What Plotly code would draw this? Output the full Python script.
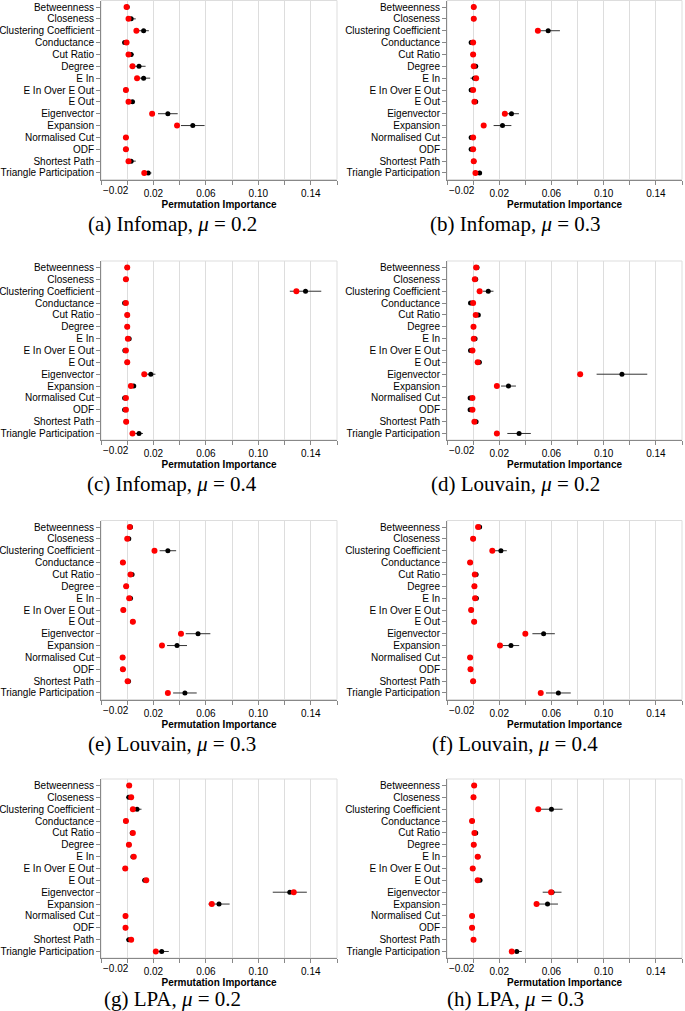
import plotly.graph_objects as go

features = ["Betweenness", "Closeness", "Clustering Coefficient", "Conductance", "Cut Ratio",
            "Degree", "E In", "E In Over E Out", "E Out", "Eigenvector", "Expansion",
            "Normalised Cut", "ODF", "Shortest Path", "Triangle Participation"]

captions = ["(a) Infomap, <i>μ</i> = 0.2", "(b) Infomap, <i>μ</i> = 0.3",
            "(c) Infomap, <i>μ</i> = 0.4", "(d) Louvain, <i>μ</i> = 0.2",
            "(e) Louvain, <i>μ</i> = 0.3", "(f) Louvain, <i>μ</i> = 0.4",
            "(g) LPA, <i>μ</i> = 0.2", "(h) LPA, <i>μ</i> = 0.3"]

tick_vals = [-0.02, 0.0, 0.02, 0.04, 0.06, 0.08, 0.10, 0.12, 0.14, 0.16]
tick_text = ["", "", "0.02", "", "0.06", "", "0.10", "", "0.14", ""]
first_tick_label = "−0.02"

# red points
a_red = [-0.0005, 0.001, 0.007, -0.0005, 0.001, 0.004, 0.0075, -0.001, 0.001, 0.019, 0.038, -0.001, -0.001, 0.001, 0.013]
b_red = [0.0005, 0.0005, 0.0496, 0.0, 0.0, 0.0005, 0.0023, 0.0, 0.001, 0.0243, 0.0081, 0.0, 0.0, 0.0005, 0.0018]
c_red = [0.0, -0.001, 0.129, -0.001, 0.0, 0.0, 0.0005, -0.001, 0.0, 0.013, 0.0028, -0.001, -0.001, -0.0008, 0.004]
d_red = [0.0023, 0.0013, 0.005, 0.0, 0.002, 0.0003, 0.0005, -0.0005, 0.0035, 0.082, 0.0182, -0.0005, -0.0005, 0.001, 0.0182]
e_red = [0.002, 0.0, 0.0208, -0.0033, 0.0025, -0.0008, 0.0015, -0.003, 0.0043, 0.041, 0.0265, -0.0035, -0.0033, 0.0003, 0.031]
f_red = [0.0038, 0.0, 0.0147, -0.0023, 0.0013, 0.001, 0.0015, -0.0015, 0.0008, 0.040, 0.0206, -0.0023, -0.002, 0.0, 0.0518]
g_red = [0.0015, 0.003, 0.0043, -0.001, 0.0043, 0.0013, 0.005, -0.0015, 0.0145, 0.127, 0.0645, -0.0013, -0.0013, 0.003, 0.0218]
h_red = [0.0008, 0.0003, 0.0499, -0.0008, 0.001, 0.0005, 0.0035, -0.0003, 0.0035, 0.0597, 0.0486, -0.0008, -0.0008, 0.0003, 0.0296]

# black points (mean) and error half-widths
a_black = [0.0, 0.003, 0.0125, -0.002, 0.003, 0.009, 0.0125, -0.001, 0.004, 0.031, 0.050, -0.001, -0.001, 0.003, 0.016]
b_black = [0.0005, 0.0005, 0.0575, -0.0015, 0.0, 0.002, 0.001, -0.0015, 0.002, 0.0294, 0.0225, -0.0015, -0.0015, 0.0005, 0.005]
c_black = [0.0, -0.001, 0.136, -0.002, 0.0, 0.0, 0.0015, -0.0018, 0.0, 0.018, 0.005, -0.002, -0.002, -0.0008, 0.009]
d_black = [0.003, 0.002, 0.0116, -0.002, 0.004, 0.0003, 0.0015, -0.002, 0.0048, 0.114, 0.0271, -0.0023, -0.0023, 0.0023, 0.0352]
e_black = [0.0025, 0.0012, 0.031, -0.0033, 0.0037, -0.0008, 0.0025, -0.003, 0.0043, 0.054, 0.038, -0.0035, -0.0033, 0.001, 0.044]
f_black = [0.005, 0.0, 0.0213, -0.0023, 0.0023, 0.001, 0.0025, -0.0015, 0.0008, 0.054, 0.029, -0.0023, -0.002, 0.0, 0.0653]
g_black = [0.0015, 0.0012, 0.0075, -0.001, 0.0038, 0.0013, 0.0043, -0.0015, 0.0133, 0.124, 0.070, -0.0013, -0.0013, 0.0012, 0.0263]
h_black = [0.0008, 0.0003, 0.060, -0.0008, 0.002, 0.0005, 0.0038, -0.0003, 0.0053, 0.0605, 0.057, -0.0008, -0.0008, 0.0003, 0.0334]

a_err = [0.0008, 0.0035, 0.004, 0.001, 0.002, 0.005, 0.005, 0.0008, 0.002, 0.0075, 0.009, 0.0008, 0.0008, 0.0035, 0.0025]
b_err = [0.0005, 0.0005, 0.009, 0.001, 0.0005, 0.001, 0.003, 0.001, 0.001, 0.0057, 0.0068, 0.001, 0.001, 0.0005, 0.0015]
c_err = [0.0005, 0.0005, 0.012, 0.001, 0.0005, 0.0005, 0.001, 0.001, 0.0005, 0.0035, 0.0015, 0.001, 0.001, 0.0005, 0.003]
d_err = [0.001, 0.001, 0.004, 0.001, 0.001, 0.0005, 0.001, 0.001, 0.001, 0.0194, 0.0057, 0.001, 0.001, 0.001, 0.009]
e_err = [0.001, 0.001, 0.0063, 0.0005, 0.001, 0.0005, 0.001, 0.0005, 0.0005, 0.0094, 0.0076, 0.0005, 0.0005, 0.001, 0.009]
f_err = [0.001, 0.0005, 0.0045, 0.0005, 0.001, 0.0005, 0.001, 0.0005, 0.0005, 0.0086, 0.0063, 0.0005, 0.0005, 0.0005, 0.0095]
g_err = [0.0005, 0.002, 0.0034, 0.0005, 0.001, 0.0005, 0.001, 0.0005, 0.0015, 0.013, 0.0081, 0.0005, 0.0005, 0.002, 0.0054]
h_err = [0.0005, 0.0005, 0.0085, 0.0005, 0.001, 0.0005, 0.001, 0.0005, 0.001, 0.0072, 0.008, 0.0005, 0.0005, 0.0005, 0.0039]

panels = [(a_red, a_black, a_err), (b_red, b_black, b_err), (c_red, c_black, c_err),
          (d_red, d_black, d_err), (e_red, e_black, e_err), (f_red, f_black, f_err),
          (g_red, g_black, g_err), (h_red, h_black, h_err)]

W, H = 685, 1011
col_px = [(101, 337), (447, 682)]
row_top_px = [0.5, 261, 520.5, 779]
plot_h = 179
cap_y_px = [224, 484, 744, 999]
cap_x_px = [172, 515]

LABEL_FONT = "Liberation Sans, Arial, sans-serif"
fig = go.Figure()
layout = dict(width=W, height=H, margin=dict(l=0, r=0, t=0, b=0),
              paper_bgcolor="white", plot_bgcolor="white", showlegend=False,
              font=dict(family=LABEL_FONT, size=10, color="#000"))
annotations = []
shapes = []

for i, (red, black, err) in enumerate(panels):
    r, c = divmod(i, 2)
    n = i + 1
    xa = "x" if n == 1 else f"x{n}"
    ya = "y" if n == 1 else f"y{n}"
    x0, x1 = col_px[c]
    top = row_top_px[r]
    bot = top + plot_h
    fig.add_trace(go.Scatter(
        x=black, y=features, mode="markers", xaxis=xa, yaxis=ya,
        marker=dict(color="black", size=5),
        error_x=dict(type="data", array=err, visible=True, color="#333", thickness=1, width=0),
    ))
    fig.add_trace(go.Scatter(
        x=red, y=features, mode="markers", xaxis=xa, yaxis=ya,
        marker=dict(color="#ff0000", size=6),
    ))
    layout["xaxis" if n == 1 else f"xaxis{n}"] = dict(
        domain=[x0 / W, x1 / W], anchor=ya, range=[-0.02, 0.16],
        tickmode="array", tickvals=tick_vals, ticktext=tick_text,
        showgrid=True, gridcolor="#dddddd", gridwidth=1, zeroline=False,
        showline=True, linecolor="#888888", linewidth=1,
        ticks="outside", ticklen=4, tickcolor="#888888",
        tickfont=dict(size=10, color="#000"),
        title=dict(text="<b>Permutation Importance</b>", font=dict(size=10, color="#000"), standoff=0),
    )
    layout["yaxis" if n == 1 else f"yaxis{n}"] = dict(
        domain=[1 - bot / H, 1 - top / H], anchor=xa,
        type="category", categoryorder="array", categoryarray=features,
        tickmode="array", tickvals=features, ticktext=features,
        range=[14.55, -0.55], showgrid=False, zeroline=False,
        showline=True, linecolor="#888888", linewidth=1,
        ticks="outside", ticklen=4, tickcolor="#888888",
        tickfont=dict(size=10, color="#000"),
    )
    shapes.append(dict(type="rect", xref=f"{xa} domain", yref=f"{ya} domain",
                       x0=0, x1=1, y0=0, y1=1, line=dict(color="#dddddd", width=1),
                       layer="below"))
    annotations.append(dict(text=first_tick_label, xref=xa, yref=f"{ya} domain",
                            x=-0.02, y=0, xanchor="left", yanchor="top", yshift=-3,
                            showarrow=False, font=dict(size=10, color="#000")))
    annotations.append(dict(text=captions[i], xref="paper", yref="paper",
                            x=cap_x_px[c] / W, y=1 - cap_y_px[r] / H,
                            xanchor="center", yanchor="middle", showarrow=False,
                            font=dict(family="Liberation Serif, Times New Roman, serif", size=21, color="#000")))

layout["annotations"] = annotations
layout["shapes"] = shapes
fig.update_layout(**layout)
fig.write_html("out.html", config={"displayModeBar": False},
               post_script="document.body.style.margin='0';document.body.style.padding='0';")
